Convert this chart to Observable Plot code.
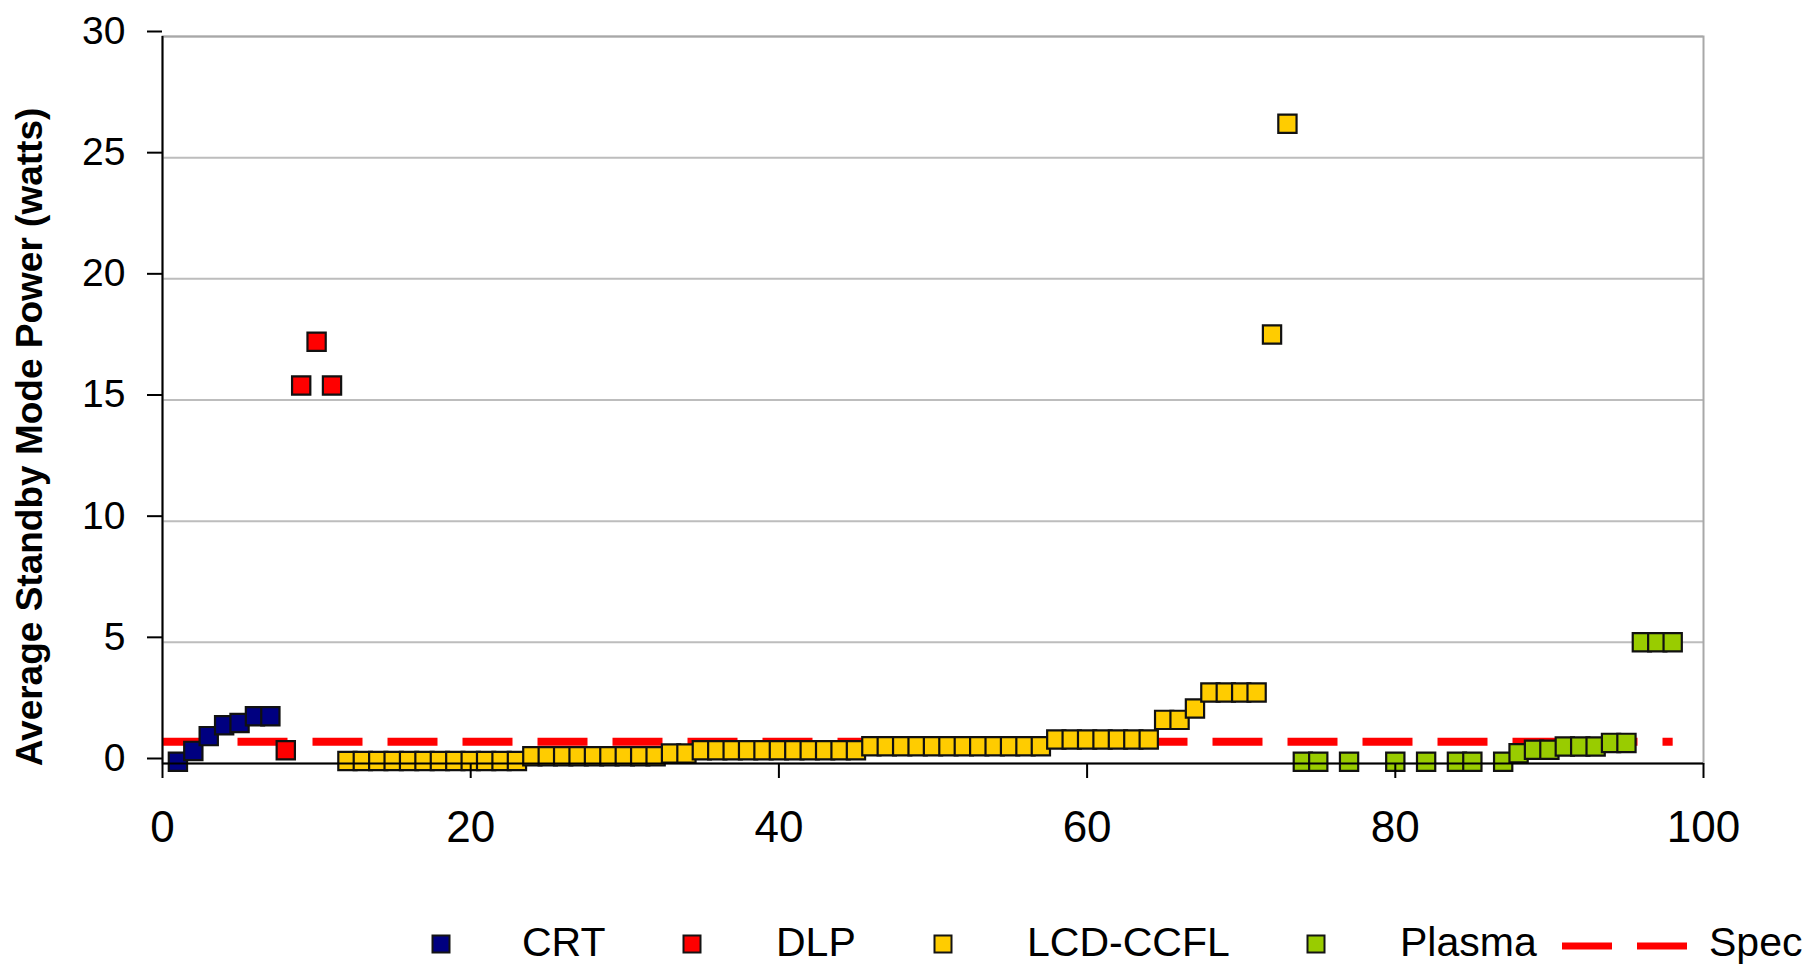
<!DOCTYPE html>
<html><head><meta charset="utf-8">
<script src="https://cdn.jsdelivr.net/npm/d3@7"></script>
<script src="https://cdn.jsdelivr.net/npm/@observablehq/plot@0.6"></script>
<style>
html,body{margin:0;padding:0;background:#fff;}
#wrap{position:relative;width:1816px;height:967px;overflow:hidden;font-family:"Liberation Sans",Arial,sans-serif;}
#wrap svg{display:block;}
#legend{position:absolute;left:0;top:900px;}
</style></head><body><div id="wrap"></div>
<script>
// ---- data ----
const seriesNames = ["CRT", "DLP", "LCD-CCFL", "Plasma"];
const seriesColors = ["#000080", "#ff0000", "#ffcc00", "#99cc00"];

const crtX = [1, 2, 3, 4, 5, 6, 7];
const crtY = [0.07, 0.52, 1.13, 1.58, 1.67, 1.95, 1.95];

const dlpX = [8, 9, 10, 11];
const dlpY = [0.55, 15.6, 17.4, 15.6];

const lcdX = [12,13,14,15,16,17,18,19,20,21,22,23,
              24,25,26,27,28,29,30,31,32,
              33,34,
              35,36,37,38,39,40,41,42,43,44,45,
              46,47,48,49,50,51,52,53,54,55,56,57,
              58,59,60,61,62,63,64,
              65,66,67,68,69,70,71,72,73];
const lcdY = [0.1,0.1,0.1,0.1,0.1,0.1,0.1,0.1,0.1,0.1,0.1,0.1,
              0.3,0.3,0.3,0.3,0.3,0.3,0.3,0.3,0.3,
              0.41,0.41,
              0.55,0.55,0.55,0.55,0.55,0.55,0.55,0.55,0.55,0.55,0.55,
              0.71,0.71,0.71,0.71,0.71,0.71,0.71,0.71,0.71,0.71,0.71,0.71,
              0.99,0.99,0.99,0.99,0.99,0.99,0.99,
              1.8,1.8,2.27,2.93,2.93,2.93,2.93,17.7,26.4];

const plasmaX = [74,75,77,80,82,84,85,87,88,89,90,91,92,93,94,95,96,97,98];
const plasmaY = [0.07,0.07,0.07,0.07,0.07,0.07,0.07,0.07,0.42,0.57,0.57,0.7,0.7,0.7,0.85,0.85,5.0,5.0,5.0];

const specName = "Spec";
const specColor = "#ff0000";
const specX = [0, 98];
const specY = [0.9, 0.9];

const xTicks = [0, 20, 40, 60, 80, 100];
const yTicks = [0, 5, 10, 15, 20, 25, 30];
const yTitle = "Average Standby Mode Power (watts)";

// ---- build ----
const seriesXs = [crtX, dlpX, lcdX, plasmaX];
const seriesYs = [crtY, dlpY, lcdY, plasmaY];
const series = seriesNames.map((name, i) => ({
  name, color: seriesColors[i],
  data: seriesXs[i].map((x, j) => ({x, y: seriesYs[i][j]}))
}));
const spec = specX.map((x, j) => ({x, y: specY[j]}));

const FONT = '"Liberation Sans", Arial, sans-serif';

const chart = Plot.plot({
  width: 1816,
  height: 900,
  marginLeft: 162,
  marginRight: 113,
  marginTop: 36,
  marginBottom: 137,
  style: {fontFamily: FONT, background: "#fff", color: "#000", overflow: "visible"},
  x: {domain: [0, 100], axis: null},
  y: {domain: [0, 30], axis: null},
  marks: [
    Plot.gridY(yTicks.slice(1), {stroke: "#bdbdbd", strokeOpacity: 1, strokeWidth: 2}),
    Plot.frame({stroke: "#a8a8a8", strokeWidth: 2}),
    Plot.lineY(spec, {x: "x", y: "y", stroke: specColor, strokeWidth: 8, strokeDasharray: "50,25", strokeLinecap: "butt"}),
    ...series.map(s => Plot.dot(s.data, {
      x: "x", y: "y", symbol: "square", r: 10.3,
      fill: s.color, stroke: "#111", strokeWidth: 2.2
    })),
    Plot.ruleX([0], {stroke: "#000", strokeWidth: 2}),
    Plot.ruleY([0], {stroke: "#000", strokeWidth: 2}),
    Plot.axisY({ticks: yTicks, tickSize: 15, tickPadding: 22, fontSize: 39, stroke: "#000", strokeWidth: 2, label: null, tickFormat: d => String(d), dy: -5}),
    Plot.axisX({ticks: xTicks, tickSize: 15, tickPadding: 32, fontSize: 44, stroke: "#000", strokeWidth: 2, label: null, tickFormat: d => String(d)})
  ]
});

const wrap = document.getElementById("wrap");
wrap.appendChild(chart);

// y-axis title
d3.select(chart).append("text")
  .attr("transform", "translate(42,437) rotate(-90)")
  .attr("text-anchor", "middle")
  .attr("font-family", FONT)
  .attr("font-weight", "bold")
  .attr("font-size", 37)
  .attr("fill", "#000")
  .text(yTitle);

// legend below the chart
const legend = d3.select(wrap).append("svg")
  .attr("id", "legend")
  .attr("width", 1816).attr("height", 67)
  .style("font-family", FONT);
const markerCx = [441, 692, 943, 1316];
const textX = [522, 776, 1027, 1400];
series.forEach((s, i) => {
  legend.append("rect")
    .attr("x", markerCx[i] - 8.5).attr("y", 44 - 8.5)
    .attr("width", 17).attr("height", 17)
    .attr("fill", s.color).attr("stroke", "#141414").attr("stroke-width", 2);
  legend.append("text")
    .attr("x", textX[i]).attr("y", 56)
    .attr("font-size", 41).attr("fill", "#000")
    .text(s.name);
});
legend.append("line")
  .attr("x1", 1562).attr("x2", 1687).attr("y1", 46).attr("y2", 46)
  .attr("stroke", specColor).attr("stroke-width", 7).attr("stroke-dasharray", "50,25");
legend.append("text")
  .attr("x", 1709).attr("y", 56)
  .attr("font-size", 41).attr("fill", "#000")
  .text(specName);
</script>
</body></html>
